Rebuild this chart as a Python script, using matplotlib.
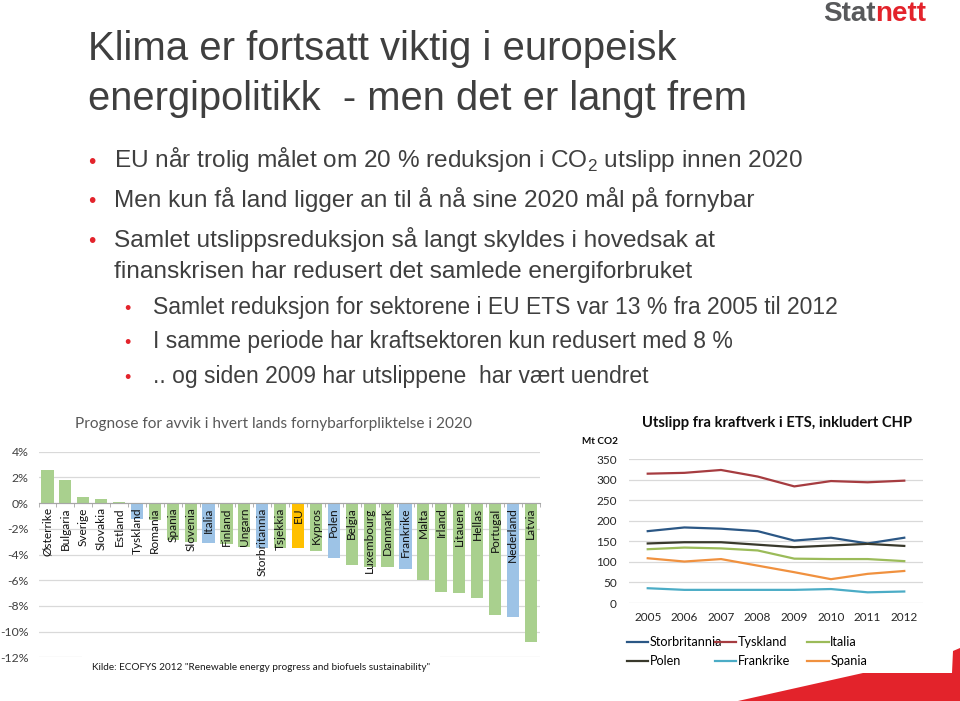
import numpy as np
import matplotlib
matplotlib.use('Agg')
import matplotlib.pyplot as plt
from matplotlib.patches import Polygon

# Slide size in pixels (dpi 100)
W, H = 960, 701

# Bar chart: deviation from 2020 renewable target (%)
countries = ['Østerrike', 'Bulgaria', 'Sverige', 'Slovakia', 'Estland', 'Tyskland',
             'Romania', 'Spania', 'Slovenia', 'Italia', 'Finland', 'Ungarn',
             'Storbritannia', 'Tsjekkia', 'EU', 'Kypros', 'Polen', 'Belgia',
             'Luxembourg', 'Danmark', 'Frankrike', 'Malta', 'Irland', 'Litauen',
             'Hellas', 'Portugal', 'Nederland', 'Latvia']
deviation = [2.6, 1.8, 0.5, 0.3, 0.1, -1.2, -1.3, -2.9, -3.0, -3.1, -3.2, -3.4,
             -3.5, -3.5, -3.5, -3.7, -4.3, -4.8, -5.0, -5.0, -5.1, -6.0, -6.9,
             -7.0, -7.4, -8.7, -8.9, -10.8]
blue_countries = ['Tyskland', 'Italia', 'Storbritannia', 'Polen', 'Frankrike', 'Nederland']
pct_ticks = [4, 2, 0, -2, -4, -6, -8, -10, -12]

# Line chart: power sector emissions (Mt CO2)
years = [2005, 2006, 2007, 2008, 2009, 2010, 2011, 2012]
storbritannia = [175, 184, 181, 175, 152, 159, 145, 159]
tyskland = [315, 317, 324, 308, 284, 297, 294, 298]
italia = [131, 135, 133, 128, 108, 107, 107, 102]
polen = [145, 148, 148, 142, 136, 140, 144, 139]
frankrike = [36, 32, 32, 32, 32, 34, 26, 28]
spania = [109, 101, 107, 91, 75, 58, 71, 78]

GREEN = '#a9d08e'
BLUE = '#9dc3e6'
ORANGE = '#ffc000'
RED = '#e3232b'
TXT = '#3f3f3f'
GRID = '#d9d9d9'
CHART_FONT = 'Lato'
SLIDE_FONT = 'Liberation Sans'

plt.rcParams['mathtext.fontset'] = 'custom'
plt.rcParams['mathtext.rm'] = SLIDE_FONT


def fx(x):
    return x / W


def fy(y):
    return 1 - y / H


fig = plt.figure(figsize=(W / 100, H / 100), dpi=100)
fig.patch.set_facecolor('white')

# --- logo and headline ---
fig.text(fx(823), fy(21), 'Stat', family=SLIDE_FONT, weight='bold', fontsize=20,
         color='#58595b', va='baseline', ha='left')
fig.text(fx(875), fy(21), 'nett', family=SLIDE_FONT, weight='bold', fontsize=20,
         color=RED, va='baseline', ha='left')

fig.text(fx(88), fy(60), 'Klima er fortsatt viktig i europeisk', family=SLIDE_FONT,
         fontsize=28.9, color=TXT, va='baseline')
fig.text(fx(88), fy(109.5), 'energipolitikk  - men det er langt frem', family=SLIDE_FONT,
         fontsize=28.7, color=TXT, va='baseline')

# --- bullet text ---
main_lines = [
    (167.5, True, 'EU når trolig målet om 20 % reduksjon i CO$_\\mathregular{2}$ utslipp innen 2020'),
    (207.3, True, 'Men kun få land ligger an til å nå sine 2020 mål på fornybar'),
    (247.3, True, 'Samlet utslippsreduksjon så langt skyldes i hovedsak at'),
    (278.3, False, 'finanskrisen har redusert det samlede energiforbruket'),
]
for y, bullet, txt in main_lines:
    if bullet:
        fig.text(fx(88), fy(y), '•', family=SLIDE_FONT, fontsize=15, color=RED, va='baseline')
    fig.text(fx(114), fy(y), txt, family=SLIDE_FONT, fontsize=17.6, color=TXT, va='baseline')

sub_lines = [
    (314, 'Samlet reduksjon for sektorene i EU ETS var 13 % fra 2005 til 2012'),
    (348.5, 'I samme periode har kraftsektoren kun redusert med 8 %'),
    (383.5, '.. og siden 2009 har utslippene  har vært uendret'),
]
for y, txt in sub_lines:
    fig.text(fx(124), fy(y), '•', family=SLIDE_FONT, fontsize=13, color=RED, va='baseline')
    fig.text(fx(153), fy(y), txt, family=SLIDE_FONT, fontsize=16.5, color=TXT, va='baseline')

# --- bar chart ---
ax = fig.add_axes([fx(38.5), fy(657.3), (539.7 - 38.5) / W, (657.3 - 451.7) / H])
x = np.arange(len(countries))
colors = [ORANGE if c == 'EU' else BLUE if c in blue_countries else GREEN for c in countries]
ax.bar(x, deviation, width=0.68, color=colors, zorder=2)
ax.set_xlim(-0.5, len(countries) - 0.5)
ax.set_ylim(-12, 4)
ax.set_yticks(pct_ticks)
ax.set_yticklabels([f'{v}%' for v in pct_ticks], family=CHART_FONT, fontsize=8.8, color='#404040')
ax.yaxis.grid(True, color=GRID, linewidth=0.9)
ax.tick_params(axis='y', length=0, pad=7)
for s in ['left', 'right', 'top']:
    ax.spines[s].set_visible(False)
ax.spines['bottom'].set_position(('data', 0))
ax.spines['bottom'].set_color('#a6a6a6')
ax.spines['bottom'].set_zorder(3)
ax.set_xticks(x)
ax.set_xticklabels(countries, family=CHART_FONT, fontsize=8.6, color='#111111')
ax.set_xticks(np.arange(-0.5, len(countries)), minor=True)
ax.tick_params(axis='x', which='major', length=0, pad=3, labelrotation=90)
ax.tick_params(axis='x', which='minor', length=3, color='#a6a6a6', direction='out')
ax.set_axisbelow(True)
ax.xaxis.set_zorder(5)  # country names drawn over the bars

fig.text(fx(75), fy(424), 'Prognose for avvik i hvert lands fornybarforpliktelse i 2020',
         family=CHART_FONT, fontsize=11.1, color='#595959', va='center', ha='left')
fig.text(fx(92), fy(667), 'Kilde: ECOFYS 2012 "Renewable energy progress and biofuels sustainability"',
         family=CHART_FONT, fontsize=7.2, color='#1a1a1a', va='center', ha='left',
         bbox=dict(facecolor='white', edgecolor='none', boxstyle='square,pad=1.0'))

# --- line chart ---
ax2 = fig.add_axes([fx(629.4), fy(603), (922.6 - 629.4) / W, (603 - 459.3) / H])
series = [
    ('Storbritannia', storbritannia, '#2b5785'),
    ('Tyskland', tyskland, '#a63c40'),
    ('Italia', italia, '#9bbb59'),
    ('Polen', polen, '#39392c'),
    ('Frankrike', frankrike, '#4bacc6'),
    ('Spania', spania, '#f0913f'),
]
handles = {}
for name, vals, col in series:
    (ln,) = ax2.plot(years, vals, color=col, linewidth=1.6, label=name, zorder=3)
    handles[name] = ln
ax2.set_xlim(years[0] - 0.5, years[-1] + 0.5)
ax2.set_ylim(0, 350)
ax2.set_yticks(range(0, 351, 50))
ax2.set_xticks(years)
ax2.yaxis.grid(True, color=GRID, linewidth=0.9, zorder=0)
for s in ax2.spines.values():
    s.set_visible(False)
ax2.tick_params(axis='both', length=0, labelsize=8.5, labelcolor='#262626')
ax2.tick_params(axis='y', pad=9)
ax2.tick_params(axis='x', pad=6.5)
for lab in ax2.get_xticklabels() + ax2.get_yticklabels():
    lab.set_family(CHART_FONT)

fig.text(fx(777), fy(423), 'Utslipp fra kraftverk i ETS, inkludert CHP', family=CHART_FONT,
         weight='bold', fontsize=10.6, color='#0d0d0d', va='center', ha='center')
fig.text(fx(582), fy(441), 'Mt CO2', family=CHART_FONT, weight='bold', fontsize=7.2,
         color='#0d0d0d', va='center', ha='left')

# one legend per column so the columns sit where the original has them
legend_cols = [(626.7, ['Storbritannia', 'Polen']),
               (715, ['Tyskland', 'Frankrike']),
               (807.3, ['Italia', 'Spania'])]
for i, (xpos, names) in enumerate(legend_cols):
    leg = ax2.legend([handles[n] for n in names], names, loc='upper left',
                     bbox_to_anchor=(fx(xpos), fy(636.5)), bbox_transform=fig.transFigure,
                     frameon=False, borderpad=0, borderaxespad=0, handlelength=1.7,
                     handletextpad=0.12, labelspacing=0.55,
                     prop={'family': CHART_FONT, 'size': 9.1})
    if i < len(legend_cols) - 1:
        ax2.add_artist(leg)

# --- red corner decoration ---
corner = [(738, 701), (863, 673), (952, 673), (953, 651), (960, 648), (960, 701)]
fig.add_artist(Polygon([(fx(px), fy(py)) for px, py in corner], closed=True,
                       transform=fig.transFigure, facecolor=RED, edgecolor='none'))

fig.savefig('out.png', dpi=100, facecolor='white')
